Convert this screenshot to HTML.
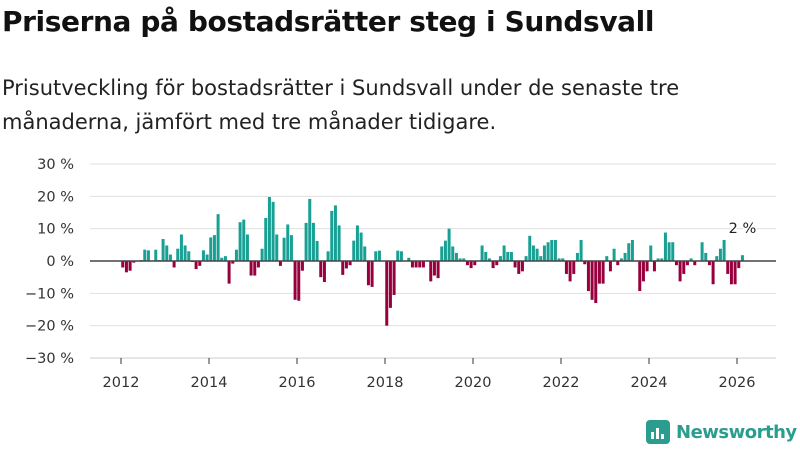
<!DOCTYPE html>
<html><head><meta charset="utf-8"><style>
body{margin:0;width:800px;height:450px;background:#fff;font-family:"DejaVu Sans","Liberation Sans",sans-serif;overflow:hidden;position:relative;color:#111}
#title{position:absolute;left:2px;top:5px;font-size:28px;font-weight:bold;letter-spacing:-0.4px;white-space:nowrap}
#sub{position:absolute;left:2px;top:71px;font-size:21px;line-height:34px;color:#222;white-space:nowrap;letter-spacing:0px}
svg{position:absolute;left:0;top:0}
#logo{position:absolute;left:646px;top:420px;font-size:18px;font-weight:bold;color:#2a9d8f;display:flex;align-items:center;gap:6px;letter-spacing:-0.5px}
</style></head><body>
<div id="title">Priserna på bostadsrätter steg i Sundsvall</div>
<div id="sub">Prisutveckling för bostadsrätter i Sundsvall under de senaste tre<br>månaderna, jämfört med tre månader tidigare.</div>
<svg id="chart" width="800" height="450"></svg>
<div id="logo"><svg width="24" height="24" viewBox="0 0 24 24" style="position:static"><rect x="0" y="0" width="24" height="24" rx="4" fill="#2a9d8f"/><rect x="5" y="12" width="3" height="7" fill="#fff"/><rect x="10" y="8" width="3" height="11" fill="#fff"/><rect x="15" y="14" width="3" height="5" fill="#fff"/></svg><span>Newsworthy</span></div>
<script>
const startYear = 2012, startMonth = 0;
const values = [-2,-3.5,-3,-0.5,0,0.3,3.5,3.3,0,3.5,0.3,6.8,4.8,2,-2,3.8,8.2,4.8,3,-0.3,-2.5,-1.5,3.3,2,7.3,8,14.5,1,1.5,-7,-0.8,3.5,12,12.8,8.2,-4.5,-4.5,-2,3.8,13.3,19.8,18.3,8.2,-1.5,7.2,11.3,8,-12,-12.3,-3,11.8,19.2,11.8,6.2,
-5,-6.5,3,15.5,17.2,11,-4.3,-2.3,-1.3,6.3,11,8.8,4.5,-7.5,-8,3,3.2,0,-20,-14.5,-10.5,3.2,3,0,1,-2,-2,-2,-2,0,-6.3,-4.5,-5.3,4.5,6.3,10,4.5,2.5,0.8,0.8,-1.3,-2.2,-1.3,0,4.8,2.8,0.8,-2.2,-1.3,1.5,4.8,2.8,2.8,-2,-4,-3.2,1.5,
7.8,4.8,3.8,1.5,4.8,5.8,6.5,6.5,0.8,0.8,-4,-6.3,-4,2.5,6.5,-1,-9.3,-12,-13,-7,-7,1.5,-3.2,3.8,-1.3,0.8,2.5,5.5,6.5,0,-9.3,-6.3,-3.2,4.8,-3.2,0.8,0.8,8.8,5.8,5.8,-1.3,-6.3,-4,-1.3,0.8,-1.3,0,5.8,2.5,-1.3,-7.2,1.5,3.8,6.5,-4,-7.2,-7.2,-2.2,1.8];
const yTicks = [30,20,10,0,-10,-20,-30];
const yTickLabels = ["30 %","20 %","10 %","0 %","−10 %","−20 %","−30 %"];
const xTicks = [2012,2014,2016,2018,2020,2022,2024,2026];
const lastLabel = "2 %";
const NS="http://www.w3.org/2000/svg";
const svg=document.getElementById('chart');
const y=v=>261-v*3.233;
const x=t=>121+(t-2012)*44;
function mk(tag,attrs){const e=document.createElementNS(NS,tag);for(const k in attrs)e.setAttribute(k,attrs[k]);svg.appendChild(e);return e;}
yTicks.forEach((t,i)=>{
 const g=mk('line',{x1:90,x2:776,y1:y(t),y2:y(t),stroke:'#e0e0e0','stroke-width':1});
 
 
 const l=mk('text',{x:74,y:y(t)+5,'text-anchor':'end','font-size':14.5,fill:'#333'});
 l.textContent=yTickLabels[i];
 
 
});
const base=mk('line',{x1:90,x2:776,y1:358,y2:358,stroke:'#ccc'});
xTicks.forEach(t=>{
 const tk=mk('line',{x1:x(t),x2:x(t),y1:358,y2:364,stroke:'#333'});
 
 
 const l=mk('text',{x:x(t),y:387,'text-anchor':'middle','font-size':14.5,fill:'#333'});
 l.textContent=t;
 
 
});
let lastX=0,lastV=0;
values.forEach((v,i)=>{
 const m=startMonth+i;
 const t=startYear+m/12+0.04;
 const cx=x(t);
 const r=mk('rect',{x:cx-1.5,y:Math.min(y(v),y(0)),width:3,height:Math.max(Math.abs(y(v)-y(0)),0.3),fill:v>=0?'#18a095':'#96003c'});
 
 
 lastX=cx;lastV=v;
});
const z=mk('line',{x1:90,x2:776,y1:y(0),y2:y(0),stroke:'#444','stroke-width':1.5});


const ll=mk('text',{x:lastX,y:y(lastV)-22,'text-anchor':'middle','font-size':14.5,fill:'#222',stroke:'#fff','stroke-width':3,'paint-order':'stroke'});
ll.textContent=lastLabel;


</script>
</body></html>
